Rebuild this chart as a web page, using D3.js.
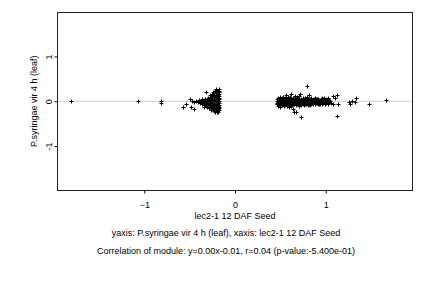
<!DOCTYPE html>
<html>
<head>
<meta charset="utf-8">
<script src="https://cdn.jsdelivr.net/npm/d3@7"></script>
<style>
  body { margin: 0; background: #fff; }
  text { font-family: "Liberation Sans", Arial, Helvetica, sans-serif; fill: #000; }
</style>
</head>
<body>
<div id="chart"></div>
<script>
// module genes: x = lec2-1 12 DAF Seed, y = P.syringae vir 4 h (leaf)
const leftCluster = [
  [-0.18,0.27],[-0.19,0.24],[-0.18,0.21],[-0.20,0.19],[-0.18,0.17],[-0.19,0.14],[-0.18,0.12],[-0.20,0.10],
  [-0.18,0.08],[-0.19,0.06],[-0.18,0.04],[-0.20,0.02],[-0.18,0.00],[-0.19,-0.02],[-0.18,-0.04],[-0.20,-0.06],
  [-0.18,-0.08],[-0.19,-0.10],[-0.18,-0.12],[-0.20,-0.14],[-0.18,-0.16],[-0.19,-0.18],[-0.18,-0.20],[-0.20,-0.22],
  [-0.19,-0.24],[-0.21,0.28],[-0.20,-0.25],[-0.18,0.23],
  [-0.21,0.25],[-0.22,0.22],[-0.21,0.18],[-0.23,0.15],[-0.22,0.12],[-0.21,0.09],[-0.23,0.06],[-0.22,0.03],
  [-0.21,0.00],[-0.23,-0.03],[-0.22,-0.06],[-0.21,-0.09],[-0.23,-0.12],[-0.22,-0.15],[-0.21,-0.18],[-0.23,-0.21],
  [-0.22,-0.23],
  [-0.24,0.20],[-0.25,0.16],[-0.24,0.12],[-0.26,0.09],[-0.25,0.05],[-0.24,0.02],[-0.26,-0.01],[-0.25,-0.04],
  [-0.24,-0.08],[-0.26,-0.11],[-0.25,-0.14],[-0.24,-0.17],[-0.26,-0.19],
  [-0.27,0.14],[-0.28,0.10],[-0.27,0.06],[-0.29,0.03],[-0.28,0.00],[-0.27,-0.03],[-0.29,-0.06],[-0.28,-0.09],
  [-0.27,-0.13],[-0.29,-0.16],
  [-0.30,0.08],[-0.31,0.05],[-0.30,0.02],[-0.32,-0.01],[-0.31,-0.04],[-0.30,-0.07],[-0.32,-0.10],[-0.31,-0.13],
  [-0.33,0.06],[-0.34,0.03],[-0.33,0.00],[-0.35,-0.03],[-0.34,-0.06],[-0.33,-0.09],[-0.34,-0.12],
  [-0.36,0.04],[-0.37,0.01],[-0.38,-0.02],[-0.36,-0.05],[-0.39,-0.03],[-0.40,0.02],[-0.41,-0.01],[-0.43,0.00],
  [-0.45,-0.02],[-0.47,0.01]
]
const leftOutliers = [
  [-0.32,0.20],[-0.45,-0.17],[-0.48,-0.13],[-0.50,0.04],[-0.54,-0.05],[-0.57,-0.12],
  [-0.81,0.00],[-0.82,-0.04],[-1.07,0.00],[-1.81,0.00]
]
const rightCluster = [
  [0.46,0.05],[0.46,0.01],[0.46,-0.03],[0.46,-0.07],[0.47,0.08],[0.47,-0.01],[0.47,-0.05],[0.47,-0.10],
  [0.48,0.03],[0.48,-0.02],[0.48,-0.06],[0.49,0.06],[0.49,0.00],[0.49,-0.04],[0.49,-0.09],[0.50,0.09],
  [0.50,0.02],[0.50,-0.03],[0.50,-0.07],[0.50,-0.12],
  [0.51,0.04],[0.51,-0.01],[0.51,-0.05],[0.52,0.07],[0.52,0.01],[0.52,-0.04],[0.52,-0.09],[0.53,0.10],
  [0.53,0.03],[0.53,-0.02],[0.53,-0.06],[0.54,0.05],[0.54,0.00],[0.54,-0.05],[0.54,-0.11],[0.55,0.08],
  [0.55,0.02],[0.55,-0.03],[0.55,-0.08],
  [0.56,0.13],[0.56,0.04],[0.56,-0.01],[0.56,-0.06],[0.57,0.06],[0.57,0.01],[0.57,-0.04],[0.57,-0.10],
  [0.58,0.09],[0.58,0.03],[0.58,-0.02],[0.58,-0.07],[0.59,0.05],[0.59,-0.01],[0.59,-0.05],[0.59,-0.12],
  [0.60,0.07],[0.60,0.02],[0.60,-0.03],[0.60,-0.09],
  [0.61,0.10],[0.61,0.04],[0.61,-0.02],[0.61,-0.06],[0.62,0.17],[0.62,0.06],[0.62,0.00],[0.62,-0.04],
  [0.62,-0.11],[0.63,0.03],[0.63,-0.02],[0.63,-0.08],[0.65,-0.24],[0.64,0.08],[0.64,0.01],[0.64,-0.05],
  [0.64,-0.17],[0.65,0.05],[0.65,-0.01],[0.65,-0.07],[0.67,-0.24],[0.66,0.12],
  [0.66,0.02],[0.66,-0.04],[0.67,0.06],[0.67,-0.01],[0.67,-0.09],[0.68,0.09],[0.68,0.03],[0.68,-0.03],
  [0.69,0.05],[0.69,-0.02],[0.69,-0.07],[0.70,0.11],[0.70,0.01],[0.70,-0.05],[0.71,0.04],[0.71,-0.02],
  [0.71,-0.10],[0.72,0.16],[0.72,0.02],[0.72,-0.06],
  [0.73,0.06],[0.73,-0.01],[0.73,-0.08],[0.74,0.03],[0.74,-0.04],[0.75,0.08],[0.75,0.00],[0.75,-0.07],
  [0.76,0.04],[0.76,-0.02],[0.76,-0.09],[0.77,0.01],[0.77,-0.05],[0.77,0.07],[0.78,0.06],[0.78,-0.01],
  [0.78,-0.07],[0.79,0.02],[0.79,-0.04],[0.79,0.09],[0.80,0.05],[0.80,-0.02],[0.80,-0.08],[0.81,-0.06],
  [0.81,0.02],[0.82,0.13],[0.82,0.01],[0.82,-0.05],[0.83,0.04],[0.83,-0.03],[0.83,-0.09],[0.84,0.07],
  [0.84,0.00],[0.84,-0.06],[0.85,-0.04],[0.85,0.03],
  [0.86,0.02],[0.86,-0.07],[0.87,0.05],[0.87,-0.02],[0.88,0.00],[0.88,0.08],[0.88,-0.06],[0.89,0.04],
  [0.89,-0.03],[0.90,-0.03],[0.90,0.06],[0.91,0.06],[0.91,0.01],[0.91,-0.07],[0.92,-0.02],[0.92,0.04],
  [0.93,0.03],[0.93,-0.05],[0.94,-0.05],[0.94,0.01],[0.95,0.05],[0.95,-0.02],[0.96,0.00],[0.96,0.08],
  [0.96,-0.07],[0.97,-0.03],[0.97,0.04],[0.98,0.07],[0.98,-0.01],[0.99,0.01],[0.99,-0.06],[1.00,-0.04],
  [1.00,0.05],[1.01,0.03],[1.01,-0.02],[1.02,0.00],[1.02,0.07],[1.03,0.05],[1.03,-0.05],[1.04,-0.02],
  [1.04,0.03],[1.05,0.01],[1.06,-0.03]
]
const rightOutliers = [
  [0.79,0.34],[0.73,-0.35],[1.08,0.11],[1.10,0.08],[1.12,0.13],[1.125,-0.33],[1.14,-0.07],[1.08,-0.06],
  [1.26,-0.02],[1.27,-0.07],[1.29,0.00],[1.33,0.08],[1.32,-0.02],[1.48,-0.07],[1.66,0.02]
]

const xTicks = [-1, 0, 1]
const yTicks = [-1, 0, 1]
const xTitle = "lec2-1 12 DAF Seed"
const yTitle = "P.syringae vir 4 h (leaf)"
const subtitles = [
  "yaxis: P.syringae vir 4 h (leaf), xaxis: lec2-1 12 DAF Seed",
  "Correlation of module: y=0.00x-0.01, r=0.04 (p-value:-5.400e-01)"
]

const width = 432
const height = 288
const box = { left: 57.5, right: 412.5, top: 12.5, bottom: 190.5 }
const fontSize = 9

const x = d3.scaleLinear().domain([-1.956, 1.956]).range([box.left, box.right])
const y = d3.scaleLinear().domain([-1.99, 1.98]).range([box.bottom, box.top])

const svg = d3.select("#chart").append("svg")
  .attr("width", width)
  .attr("height", height)

// zero reference line
svg.append("line")
  .attr("x1", box.left).attr("x2", box.right)
  .attr("y1", y(0)).attr("y2", y(0))
  .attr("stroke", "#cfcfcf")
  .attr("stroke-width", 1)

// points as "+" marks
const points = leftCluster.concat(leftOutliers, rightCluster, rightOutliers)
const r = 2
svg.append("g")
  .selectAll("path")
  .data(points)
  .enter().append("path")
    .attr("d", function(d) {
      const px = Math.round(x(d[0])) + 0.5
      const py = Math.round(y(d[1])) + 0.5
      return `M${px - r},${py}H${px + r}M${px},${py - r}V${py + r}`
    })
    .attr("stroke", "#000")
    .attr("stroke-width", 1)
    .attr("fill", "none")

// frame
svg.append("rect")
  .attr("x", box.left).attr("y", box.top)
  .attr("width", box.right - box.left)
  .attr("height", box.bottom - box.top)
  .attr("fill", "none")
  .attr("stroke", "#222")
  .attr("stroke-width", 1)

// x axis
const xAxis = svg.append("g")
  .attr("transform", `translate(0,${box.bottom})`)
  .call(d3.axisBottom(x).tickValues(xTicks).tickSize(3).tickPadding(8).tickFormat(d3.format("d")))
xAxis.select(".domain").remove()
xAxis.selectAll("text").attr("font-size", fontSize).attr("font-family", null)

// y axis, labels rotated like R
const yAxis = svg.append("g")
  .attr("transform", `translate(${box.left},0)`)
  .call(d3.axisLeft(y).tickValues(yTicks).tickSize(3).tickFormat(d3.format("d")))
yAxis.select(".domain").remove()
yAxis.selectAll("text").remove()
yAxis.selectAll(".tick").append("text")
  .attr("transform", "translate(-6,0) rotate(-90)")
  .attr("text-anchor", "middle")
  .attr("font-size", fontSize)
  .text(function(d) { return d })

const cx = (box.left + box.right) / 2

svg.append("text")
  .attr("x", cx).attr("y", 218.5)
  .attr("text-anchor", "middle")
  .attr("font-size", fontSize)
  .text(xTitle)

svg.append("text")
  .attr("transform", `translate(36.5,${y(0)}) rotate(-90)`)
  .attr("text-anchor", "middle")
  .attr("font-size", fontSize)
  .text(yTitle)

svg.selectAll("text.sub")
  .data(subtitles)
  .enter().append("text")
    .attr("class", "sub")
    .attr("x", 226)
    .attr("y", function(d, i) { return 235.5 + i * 18 })
    .attr("text-anchor", "middle")
    .attr("font-size", fontSize)
    .text(function(d) { return d })
</script>
</body>
</html>
